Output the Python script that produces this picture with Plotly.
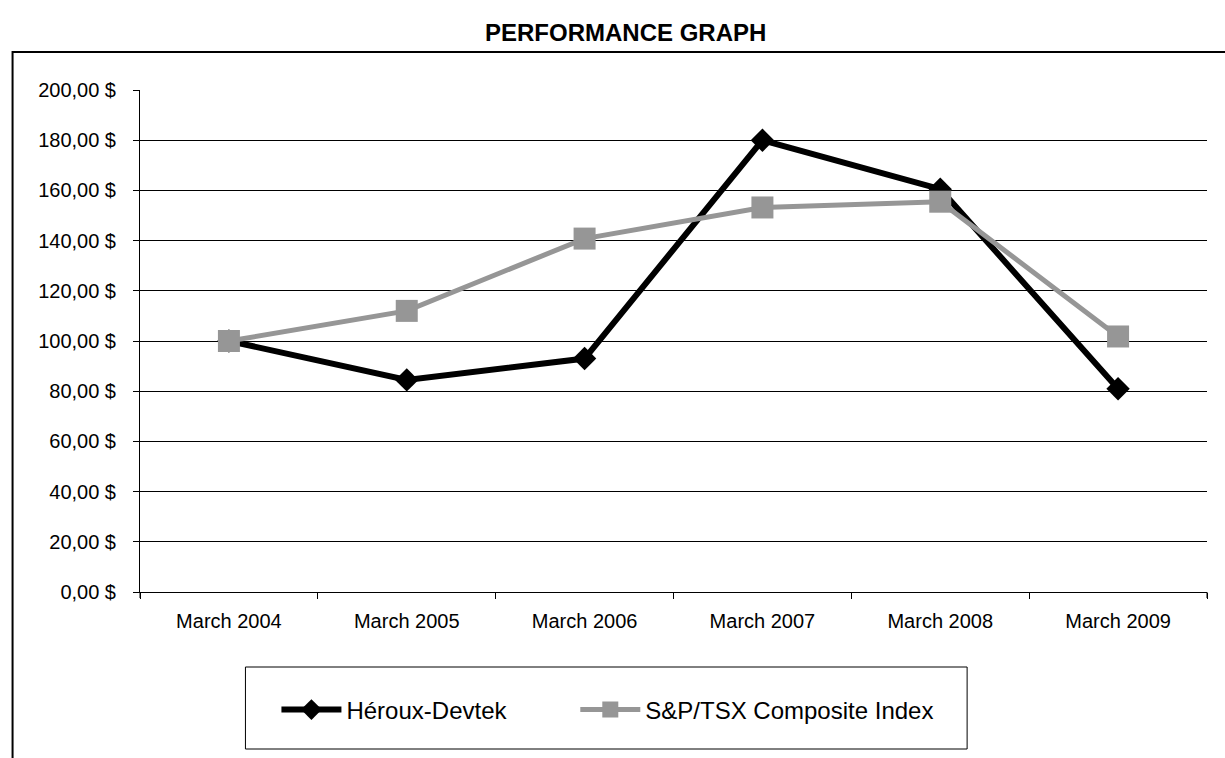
import plotly.graph_objects as go

categories = ["March 2004", "March 2005", "March 2006", "March 2007", "March 2008", "March 2009"]
heroux = [100.0, 84.5, 93.0, 180.0, 160.5, 81.0]
sptsx = [100.0, 112.0, 140.8, 153.2, 155.5, 101.8]
ytick_vals = [0, 20, 40, 60, 80, 100, 120, 140, 160, 180, 200]
ytick_text = ["0,00 $", "20,00 $", "40,00 $", "60,00 $", "80,00 $", "100,00 $",
              "120,00 $", "140,00 $", "160,00 $", "180,00 $", "200,00 $"]

W, H = 1225, 758
L, R, T, B = 139.5, 1207, 90, 592
pw, ph = R - L, B - T


def px(x):
    return (x - L) / pw


def py(y):
    return (B - y) / ph


FONT = "Liberation Sans, Arial, sans-serif"

fig = go.Figure()
fig.add_trace(go.Scatter(
    x=categories, y=heroux, name="Héroux-Devtek", mode="lines+markers",
    line=dict(color="#000000", width=6),
    marker=dict(symbol="diamond", size=18, color="#000000"),
    legend="legend",
))
fig.add_trace(go.Scatter(
    x=categories, y=sptsx, name="S&P/TSX Composite Index", mode="lines+markers",
    line=dict(color="#969696", width=5),
    marker=dict(symbol="square", size=22, color="#969696"),
    legend="legend2",
))

legend_common = dict(
    orientation="h", yanchor="middle", xanchor="left",
    font=dict(size=24, family=FONT, color="#000000"),
    bgcolor="rgba(0,0,0,0)", borderwidth=0, itemwidth=60,
)

fig.update_layout(
    width=W, height=H,
    margin=dict(l=L, r=W - R, t=T, b=H - B, autoexpand=False),
    paper_bgcolor="white", plot_bgcolor="white",
    font=dict(family=FONT, size=20, color="#000000"),
    showlegend=True,
    legend=dict(x=px(276), y=py(710), **legend_common),
    legend2=dict(x=px(575), y=py(710), **legend_common),
    xaxis=dict(
        type="category", range=[-0.5, len(categories) - 0.5],
        tickson="boundaries", ticks="outside", ticklen=6,
        tickcolor="#000000", showline=True, linecolor="#000000", linewidth=1,
        showgrid=False, tickfont=dict(size=20), ticklabelstandoff=11, fixedrange=True,
    ),
    yaxis=dict(
        range=[0, 200], tickvals=ytick_vals, ticktext=ytick_text,
        ticks="outside", ticklen=6, tickcolor="#000000",
        showline=True, linecolor="#000000", linewidth=1,
        showgrid=True, gridcolor="#000000", gridwidth=1, zeroline=False,
        tickfont=dict(size=20), ticklabelstandoff=13, fixedrange=True,
    ),
    shapes=[
        dict(type="rect", xref="paper", yref="paper",
             x0=px(12), x1=px(1240), y0=py(52), y1=py(780),
             line=dict(color="#000000", width=2), fillcolor="rgba(0,0,0,0)", layer="below"),
        dict(type="rect", xref="paper", yref="paper",
             x0=px(245), x1=px(967), y0=py(667), y1=py(749),
             line=dict(color="#000000", width=1), fillcolor="rgba(0,0,0,0)", layer="below"),
        dict(type="line", xref="paper", yref="paper",
             x0=0, x1=0, y0=0, y1=py(598),
             line=dict(color="#000000", width=1)),
        dict(type="line", xref="paper", yref="paper",
             x0=1, x1=1, y0=0, y1=py(598),
             line=dict(color="#000000", width=1)),
    ],
    annotations=[
        dict(text="<b>PERFORMANCE GRAPH</b>", xref="paper", yref="paper",
             x=px(625), y=py(32), xanchor="center", yanchor="middle",
             showarrow=False, font=dict(size=24, family=FONT, color="#000000")),
    ],
)

fig.write_html(
    "out.html",
    config={"displayModeBar": False},
    post_script="document.body.style.margin='0';document.body.style.overflow='hidden';",
)
